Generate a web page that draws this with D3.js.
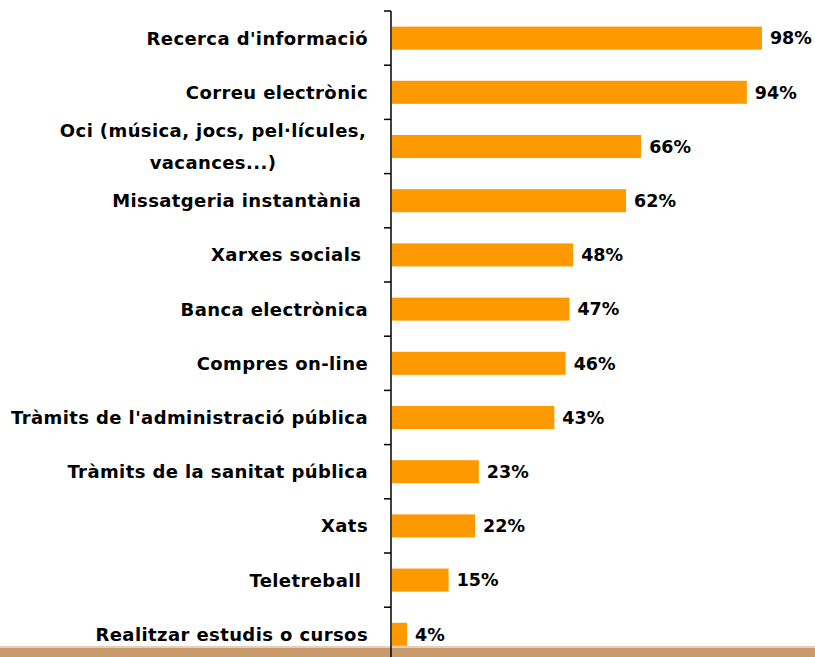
<!DOCTYPE html>
<head>
    <meta charset="utf-8">
    <script src="https://d3js.org/d3.v7.min.js"></script>
    <style>
      body { margin: 0; background: #fff; }
      text { font-family: "DejaVu Sans", sans-serif; font-weight: bold; fill: #000; }
    </style>
</head>

<body>
    <div id="chart"></div>
</body>

<script>

  // data, top to bottom
  const categories = [
    "Recerca d'informació",
    "Correu electrònic",
    "Oci (música, jocs, pel·lícules,|vacances...)",
    "Missatgeria instantània ",
    "Xarxes socials ",
    "Banca electrònica",
    "Compres on-line",
    "Tràmits de l'administració pública",
    "Tràmits de la sanitat pública",
    "Xats",
    "Teletreball ",
    "Realitzar estudis o cursos"
  ];
  const values = [98, 94, 66, 62, 48, 47, 46, 43, 23, 22, 15, 4];

  const W = 815, H = 657;
  const axisX = 391;

  const svg = d3.select("#chart")
    .append("svg")
    .attr("width", W)
    .attr("height", H);

  const x = d3.scaleLinear()
    .domain([0, 100])
    .range([axisX + 1, axisX + 1 + 377.5]);

  const y = d3.scaleBand()
    .domain(categories)
    .range([11, 11 + 12 * 54.2])
    .paddingInner(0.575)
    .paddingOuter(0.2875);

  // bottom strip
  svg.append("rect")
    .attr("x", 0).attr("y", 646)
    .attr("width", W).attr("height", H - 646)
    .attr("fill", "#c89a6c");
  svg.append("rect")
    .attr("x", 0).attr("y", 646)
    .attr("width", W).attr("height", 2)
    .attr("fill", "#e6cfb6");

  // Bars
  svg.selectAll("rect.bar")
    .data(values)
    .join("rect")
    .attr("class", "bar")
    .attr("x", x(0))
    .attr("y", (d, i) => y(categories[i]))
    .attr("width", d => x(d) - x(0))
    .attr("height", y.bandwidth())
    .attr("fill", "#ff9900");

  // value labels
  svg.selectAll("text.val")
    .data(values)
    .join("text")
    .attr("class", "val")
    .attr("x", d => x(d) + 8)
    .attr("y", (d, i) => y(categories[i]) + y.bandwidth() / 2)
    .attr("dy", "0.36em")
    .style("font-size", "17.5px")
    .text(d => d + "%");

  // category labels
  const step = y.step();
  svg.selectAll("text.cat")
    .data(categories)
    .join("text")
    .attr("class", "cat")
    .attr("text-anchor", "end")
    .style("font-size", "18px")
    .style("letter-spacing", "0.4px")
    .style("white-space", "pre")
    .attr("transform", d => `translate(368, ${y(d) + y.bandwidth() / 2})`)
    .each(function(d) {
      const lines = d.split("|");
      const t = d3.select(this);
      if (lines.length === 1) {
        t.append("tspan").attr("x", 0).attr("dy", "0.36em").text(d);
      } else {
        t.attr("text-anchor", "middle");
        lines.forEach((l, k) => {
          t.append("tspan")
            .attr("x", -155)
            .attr("y", (k - 0.5) * 32)
            .attr("dy", "0.36em")
            .text(l);
        });
      }
    });

  // axis with ticks at band edges
  const edges = d3.range(categories.length + 1).map(i => 11 + i * step);
  svg.append("line")
    .attr("x1", axisX).attr("x2", axisX)
    .attr("y1", 11).attr("y2", H)
    .attr("stroke", "#000").attr("stroke-width", 1.5);
  svg.selectAll("line.tick")
    .data(edges)
    .join("line")
    .attr("class", "tick")
    .attr("x1", axisX - 7).attr("x2", axisX)
    .attr("y1", d => d).attr("y2", d => d)
    .attr("stroke", "#000").attr("stroke-width", 1.5);

</script>
